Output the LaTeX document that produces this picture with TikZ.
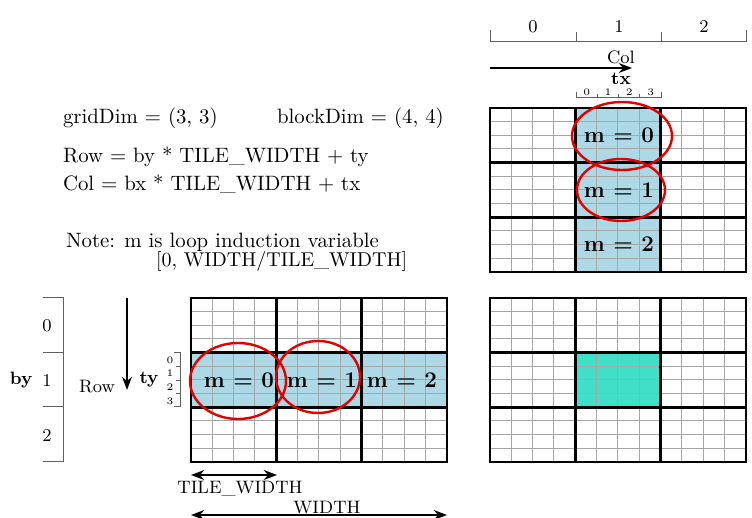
\documentclass[tikz,border=0pt]{standalone}
\usepackage{tikz}
\usetikzlibrary{arrows.meta, positioning}
\definecolor{tileblue}{RGB}{173,216,230}
\definecolor{outteal}{RGB}{64,224,200}
\tikzset{
  cell/.style={gray!70, line width=0.5pt},
  tile/.style={black, line width=1.3pt, line cap=rect},
  mlabel/.style={font=\fontsize{11.2}{13}\selectfont\bfseries},
  note/.style={anchor=west, font=\fontsize{10.4}{12}\selectfont},
  loop/.style={red!90!black, line width=1.2pt},
  ruler/.style={gray!75!black, line width=0.5pt},
  tick/.style={font=\tiny, inner sep=0pt},
}
% 12 x 12 cells, blocks of 4 x 4
\newcommand{\cellgrid}{%
  \foreach \i in {0,...,12} {
    \draw[cell] (\i*21.333,0) -- (\i*21.333,164);
    \draw[cell] (0,\i*13.667) -- (256,\i*13.667);
  }
  \foreach \i in {0,4,8,12} {
    \draw[tile] (\i*21.333,0) -- (\i*21.333,164);
    \draw[tile] (0,\i*13.667) -- (256,\i*13.667);
  }
}

\begin{document}
\begin{tikzpicture}[x=0.5pt, y=-0.5pt, >=Stealth]
  \useasboundingbox (0,0) rectangle (752,518);

  % --- Block index bx ---
  \draw[ruler] (490,30) -- (490,42) -- (746,42) -- (746,30);
  \draw[ruler] (576,42) -- (576,32);
  \draw[ruler] (661,42) -- (661,32);
  \node (bx0) at (533,27) {\small 0};
  \node (bx1) at (619,27) {\small 1};
  \node (bx2) at (704,27) {\small 2};

  % Col arrow
  \coordinate (colstart) at (490,68);
  \coordinate (colend) at (632,68);
  \draw[->, thick] (colstart) -- (colend);
  \node (col) at (621,57) {\small Col};
  \node (tx) at (621,79) {\small\bfseries tx};

  % tx ruler
  \draw[ruler] (576,92) -- (576,98) -- (661,98) -- (661,92);
  \foreach \k in {1,2,3}
    \draw[ruler] (576+\k*21.333,98) -- (576+\k*21.333,94);
  \foreach \k in {0,...,3}
    \node[tick] (tx\k) at (586.7+\k*21.333,92) {\k};

  % --- Text ---
  \node[note] (griddim) at (56,118) {gridDim = (3, 3)};
  \node[note] (blockdim) at (270,118) {blockDim = (4, 4)};
  \node[note] (roweq) at (56,157) {Row = by * TILE\_WIDTH + ty};
  \node[note] (coleq) at (56,184) {Col = bx * TILE\_WIDTH + tx};
  \node[note] (note) at (59,242) {Note: m is loop induction variable};
  \node[note, font=\normalsize] (range) at (149,262) {[0, WIDTH/TILE\_WIDTH]};

  % --- N: column strip ---
  \begin{scope}[shift={(490,108)}]
    \fill[tileblue] (85.333,0) rectangle (170.667,164);
    \cellgrid
    \node[mlabel] (n0) at (129,27.3) {m = 0};
    \node[mlabel] (n1) at (129,82) {m = 1};
    \node[mlabel] (n2) at (129,136.5) {m = 2};
    \draw[loop] (132,28) ellipse (50 and 34);
    \draw[loop] (131,82) ellipse (44 and 31);
  \end{scope}

  % --- Block index by ---
  \draw[ruler] (43,298) -- (63,298) -- (63,462) -- (43,462);
  \draw[ruler] (43,353) -- (63,353);
  \draw[ruler] (43,407) -- (63,407);
  \node (by0) at (47,326) {\small 0};
  \node (by1) at (47,381) {\small 1};
  \node (by2) at (47,436) {\small 2};
  \node (by) at (21,380) {\small\bfseries by};

  % Row arrow
  \coordinate (rowstart) at (127,298);
  \coordinate (rowend) at (127,390);
  \draw[->, thick] (rowstart) -- (rowend);
  \node[anchor=east] (row) at (122,387) {\small Row};
  \node (ty) at (149,380) {\small\bfseries ty};

  % ty ruler
  \draw[ruler] (174,353) -- (180,353) -- (180,407) -- (174,407);
  \foreach \k in {1,2,3}
    \draw[ruler] (180,353+\k*13.667) -- (176,353+\k*13.667);
  \foreach \k in {0,...,3}
    \node[tick] (ty\k) at (170,360+\k*13.667) {\k};

  % --- M: row strip ---
  \begin{scope}[shift={(191,298)}]
    \fill[tileblue] (0,54.667) rectangle (256,109.333);
    \cellgrid
    \node[mlabel] (m0) at (48,82) {m = 0};
    \node[mlabel] (m1) at (131,82) {m = 1};
    \node[mlabel] (m2) at (211,82) {m = 2};
    \draw[loop] (47,83) ellipse (48 and 38);
    \draw[loop] (127,79) ellipse (42 and 36);
  \end{scope}

  % --- P: output tile ---
  \begin{scope}[shift={(490,298)}]
    \fill[outteal] (85.333,54.667) rectangle (170.667,109.333);
    \cellgrid
  \end{scope}

  % --- Widths ---
  \coordinate (tileleft) at (191,475);
  \coordinate (tileright) at (277,475);
  \draw[<->, thick] (tileleft) -- (tileright);
  \node (tilewidth) at (240,489) {\small TILE\_WIDTH};
  \coordinate (widthleft) at (191,515);
  \coordinate (widthright) at (447,515);
  \draw[<->, thick] (widthleft) -- (widthright);
  \node (width) at (327,508) {\small WIDTH};
\end{tikzpicture}
\end{document}
